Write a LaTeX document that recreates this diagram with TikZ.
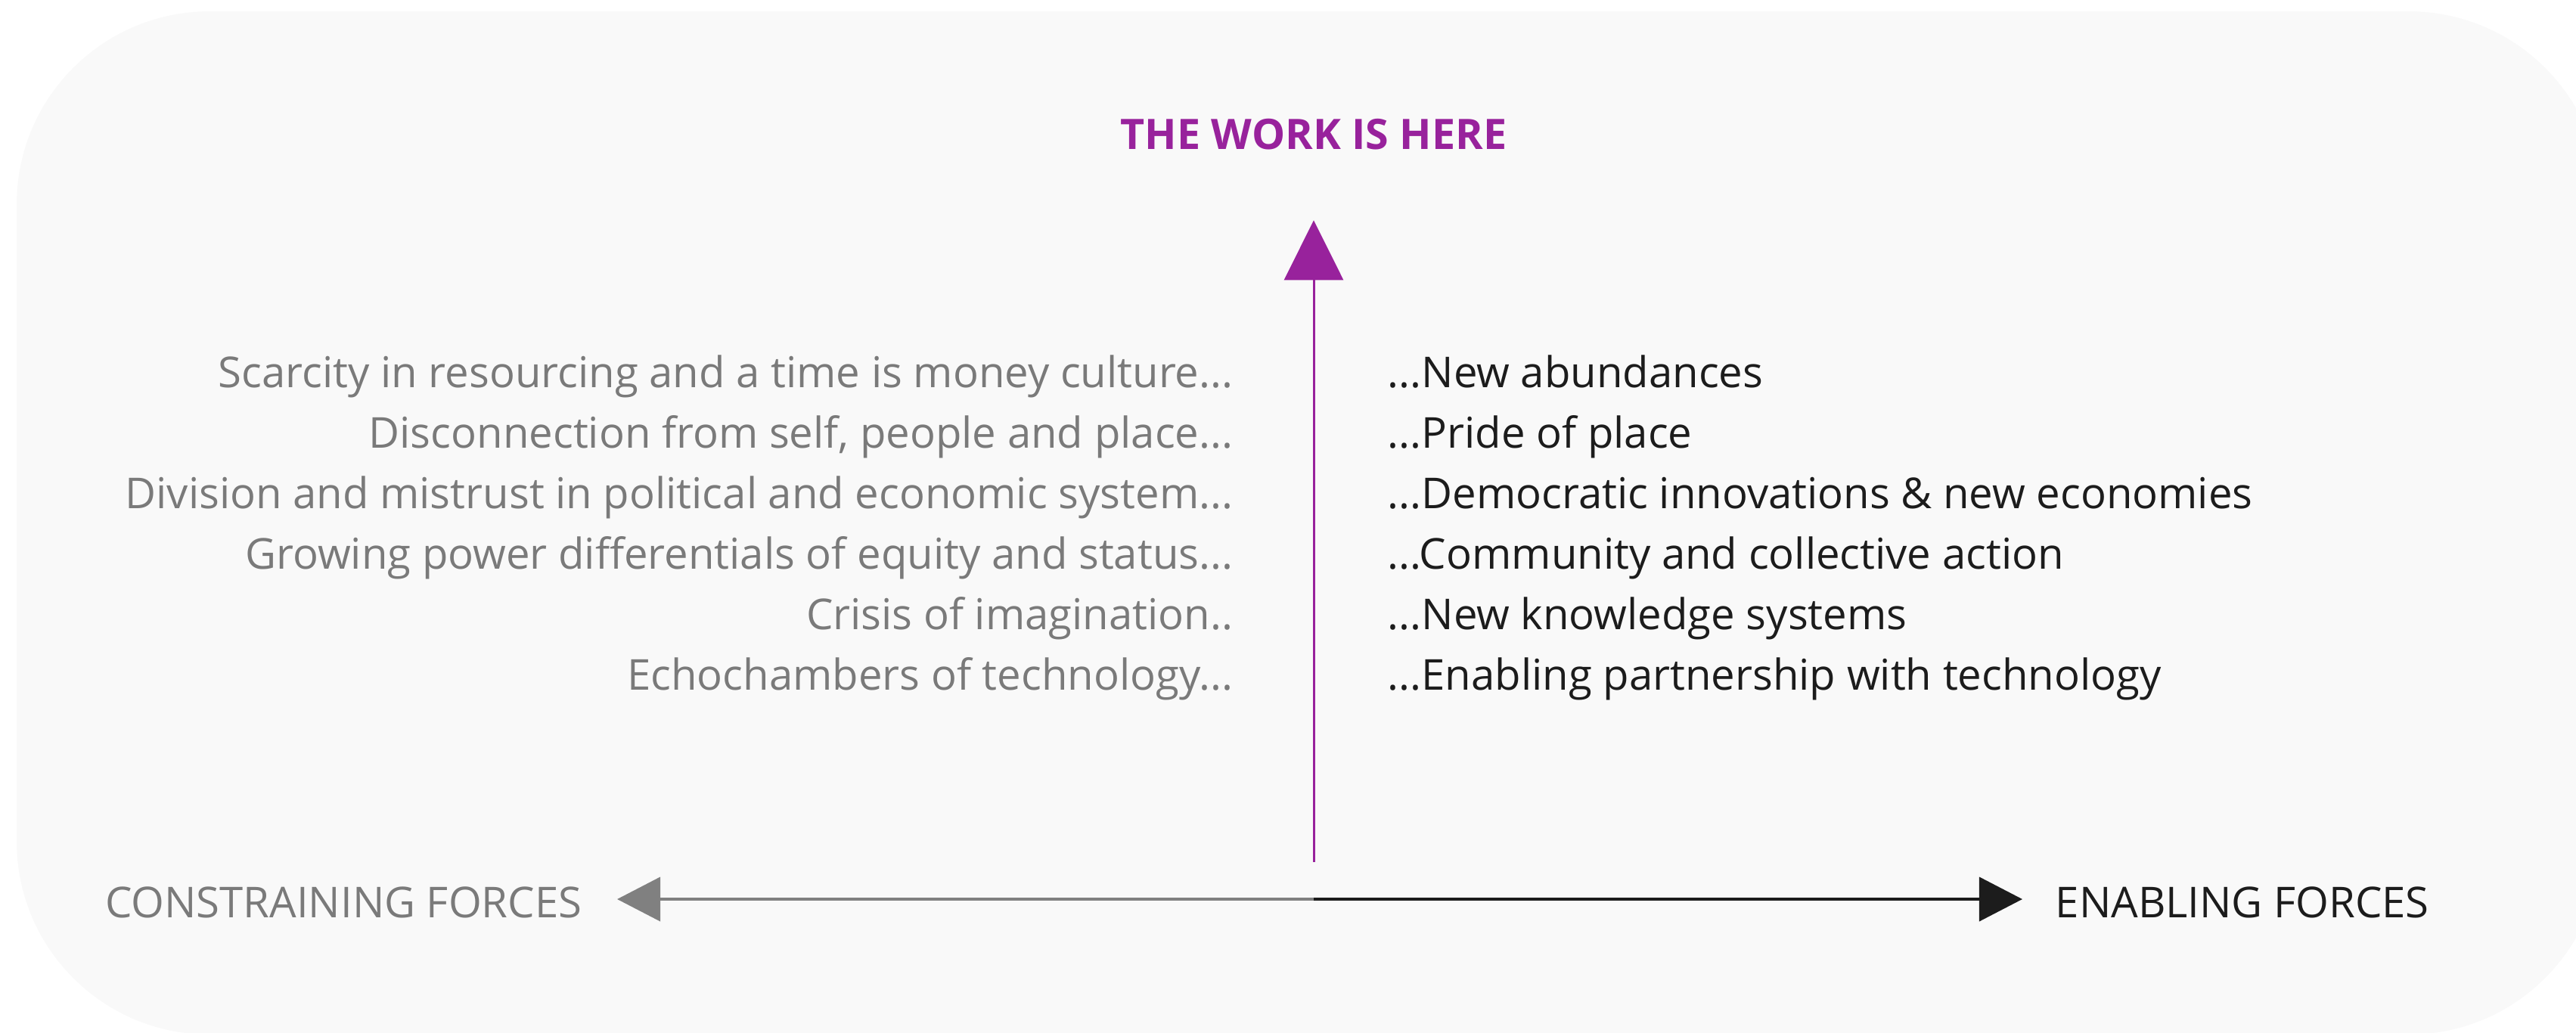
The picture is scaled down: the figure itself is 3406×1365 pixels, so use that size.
\documentclass[tikz,border=0pt]{standalone}
\usepackage{fontspec}
\setmainfont{Open Sans}
\usetikzlibrary{arrows.meta,positioning}
\definecolor{workpurple}{RGB}{152,34,156}
\definecolor{constraingray}{RGB}{122,122,122}
\definecolor{enableblack}{RGB}{28,28,28}
\definecolor{panelgray}{RGB}{249,249,249}
\tikzset{
every node/.style={inner sep=0pt},
listfont/.style={font=\fontsize{16}{19}\selectfont},
constraint/.style={listfont, text=constraingray, anchor=base east},
enabler/.style={listfont, text=enableblack, anchor=base west},
worktitle/.style={font=\bfseries\fontsize{15.8}{19}\selectfont, text=workpurple, anchor=base},
workarrow/.style={draw=workpurple, line width=0.03cm, -{Triangle[length=0.79cm,width=0.78cm]}},
constrainarrow/.style={draw=black!50, line width=0.04cm, -{Triangle[length=0.57cm,width=0.58cm]}},
enablearrow/.style={draw=enableblack, line width=0.04cm, -{Triangle[length=0.57cm,width=0.58cm]}}
}

\begin{document}
\begin{tikzpicture}[x=0.01cm,y=-0.01cm]
    \useasboundingbox (0,0) rectangle (3406,1365);
    \fill[panelgray, rounded corners=2.55cm] (22,15) rectangle (3440,1368);

    \node[worktitle] (title) at (1737,197) {THE WORK IS HERE};

    \node[constraint] (scarcity) at (1631,512) {Scarcity in resourcing and a time is money culture...};
    \node[constraint] (disconnection) at (1631,592) {Disconnection from self, people and place...};
    \node[constraint] (division) at (1631,672) {Division and mistrust in political and economic system...};
    \node[constraint] (power) at (1631,752) {Growing power differentials of equity and status...};
    \node[constraint] (crisis) at (1631,832) {Crisis of imagination..};
    \node[constraint] (echo) at (1631,912) {Echochambers of technology...};

    \node[enabler] (abundance) at (1834,512) {...New abundances};
    \node[enabler] (pride) at (1834,592) {...Pride of place};
    \node[enabler] (democratic) at (1834,672) {...Democratic innovations \& new economies};
    \node[enabler] (community) at (1834,752) {...Community and collective action};
    \node[enabler] (knowledge) at (1834,832) {...New knowledge systems};
    \node[enabler] (partnership) at (1834,912) {...Enabling partnership with technology};

    \coordinate (hub) at (1737,1189);
    \coordinate[above=0.49cm of hub] (foot);
    \node[listfont, text=constraingray, anchor=base east] (constraining) at (770,1213) {CONSTRAINING FORCES};
    \node[listfont, text=enableblack, anchor=base west] (enabling) at (2717,1213) {ENABLING FORCES};

    \draw[constrainarrow, shorten >=0.46cm] (hub) -- (hub -| constraining.east);
    \draw[enablearrow, shorten >=0.43cm] (hub) -- (hub -| enabling.west);
    \draw[workarrow, shorten >=0.93cm] (foot) -- (title.south);
  \end{tikzpicture}
\end{document}
